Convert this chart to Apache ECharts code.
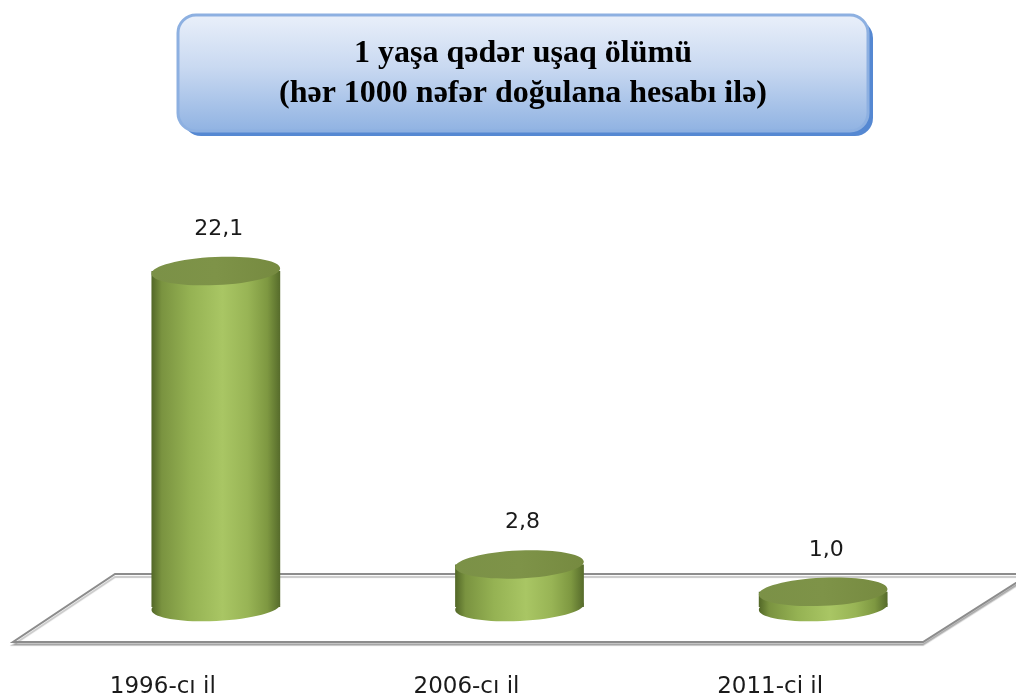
<!DOCTYPE html>
<html>
<head>
<meta charset="utf-8">
<script src="https://cdn.jsdelivr.net/npm/echarts@6/dist/echarts.min.js"></script>
<style>
  html, body { margin: 0; padding: 0; background: #fff; }
  #chart { width: 1016px; height: 693px; }
</style>
</head>
<body>
<div id="chart"></div>
<script>
const years = ['1996-cı il', '2006-cı il', '2011-ci il'];
const rates = [22.1, 2.8, 1.0];
const titleLines = ['1 yaşa qədər uşaq ölümü', '(hər 1000 nəfər doğulana hesabı ilə)'];

const chart = echarts.init(document.getElementById('chart'));

const bodyFill = {
  type: 'linear', x: 0, y: 0, x2: 1, y2: 0,
  colorStops: [
    { offset: 0, color: '#526727' },
    { offset: 0.08, color: '#7a9340' },
    { offset: 0.3, color: '#95b253' },
    { offset: 0.55, color: '#a9c664' },
    { offset: 0.75, color: '#98b455' },
    { offset: 0.9, color: '#7e9841' },
    { offset: 1, color: '#566b2b' }
  ]
};
const topFill = {
  type: 'linear', x: 0, y: 0, x2: 1, y2: 0,
  colorStops: [
    { offset: 0, color: '#7b9147' },
    { offset: 0.5, color: '#7e9348' },
    { offset: 1, color: '#768a40' }
  ]
};

// cylinder drawn from the value on the y scale down to zero
function renderCylinder(params, api) {
  const top = api.coord([api.value(0), api.value(1)]);
  const base = api.coord([api.value(0), 0]);
  const rx = api.size([1, 0])[0] * 0.212;
  const ry = 14;
  const tilt = 0.045;
  const txt = api.value(1).toFixed(1).replace('.', ',');
  return {
    type: 'group',
    children: [
      {
        type: 'ellipse',
        shape: { cx: base[0], cy: base[1], rx: rx, ry: ry },
        originX: base[0], originY: base[1], rotation: tilt,
        style: { fill: bodyFill }
      },
      {
        type: 'rect',
        shape: { x: base[0] - rx, y: top[1], width: rx * 2, height: base[1] - top[1] },
        style: { fill: bodyFill }
      },
      {
        type: 'ellipse',
        shape: { cx: top[0], cy: top[1], rx: rx, ry: ry },
        originX: top[0], originY: top[1], rotation: tilt,
        style: { fill: topFill }
      },
      {
        type: 'text',
        x: top[0] + 3, y: top[1] - 42,
        style: {
          text: txt, fill: '#1a1a1a',
          font: '22px "DejaVu Sans"',
          align: 'center', verticalAlign: 'middle'
        }
      }
    ]
  };
}

chart.setOption({
  animation: false,
  grid: { left: 64, right: 41, top: 151, bottom: 86, outerBoundsMode: 'none' },
  xAxis: {
    type: 'category',
    data: years,
    axisLine: { show: false },
    axisTick: { show: false },
    axisLabel: {
      margin: 69,
      fontFamily: 'DejaVu Sans',
      fontSize: 23,
      color: '#1a1a1a',
      padding: [0, 106, 0, 0]
    }
  },
  yAxis: {
    type: 'value', min: 0, max: 30, show: false
  },
  graphic: [
    {
      type: 'polygon',
      z: 0,
      shape: { points: [[115, 574], [1030, 574], [923, 642], [13, 642]] },
      style: {
        fill: '#fff', stroke: '#8c8c8c', lineWidth: 2,
        shadowColor: 'rgba(0,0,0,0.22)', shadowOffsetY: 3, shadowBlur: 1
      }
    },
    {
      type: 'rect',
      z: 9,
      shape: { x: 183, y: 20, width: 690, height: 116, r: 18 },
      style: { fill: '#5588d2' }
    },
    {
      type: 'rect',
      z: 10,
      shape: { x: 178, y: 15, width: 690, height: 116, r: 18 },
      style: {
        fill: {
          type: 'linear', x: 0, y: 0, x2: 0, y2: 1,
          colorStops: [
            { offset: 0, color: '#eaf0fa' },
            { offset: 0.45, color: '#c9d9f1' },
            { offset: 1, color: '#8fb2e2' }
          ]
        },
        stroke: '#8db0e1', lineWidth: 3
      }
    },
    {
      type: 'text',
      z: 11,
      x: 523, y: 74,
      style: {
        text: titleLines.join('\n'),
        font: 'bold 32px "Liberation Serif"',
        fill: '#000', align: 'center', verticalAlign: 'middle', lineHeight: 40
      }
    }
  ],
  series: [
    {
      type: 'custom',
      z: 5,
      renderItem: renderCylinder,
      data: rates.map((v, i) => [i, v])
    }
  ]
});
</script>
</body>
</html>
